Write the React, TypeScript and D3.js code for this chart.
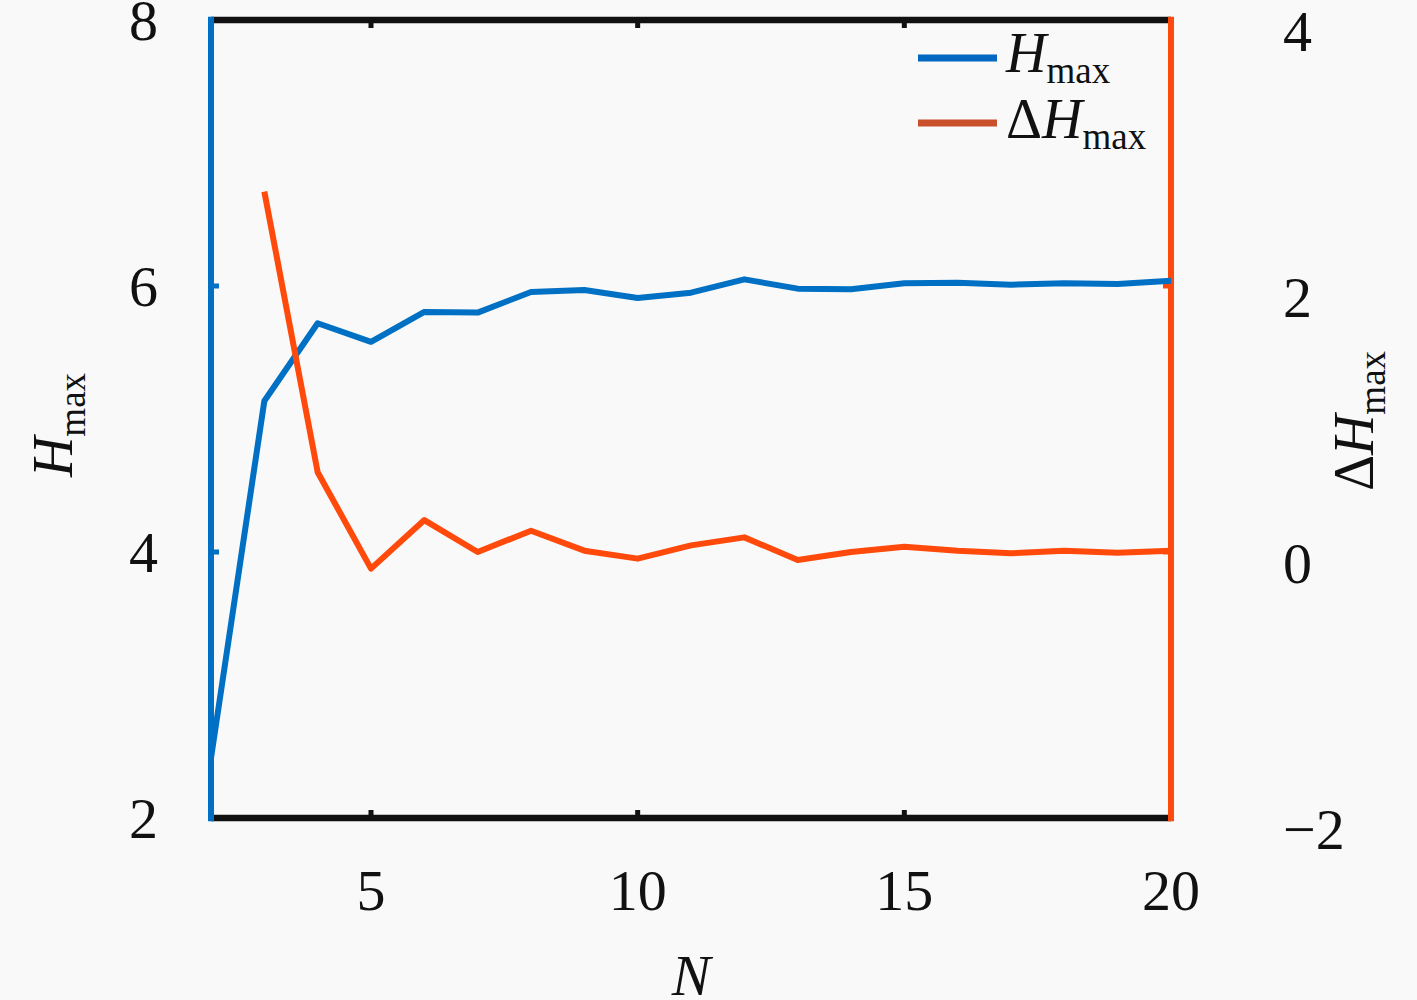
import React from "react";
import * as d3 from "d3";

const N: number[] = [2, 3, 4, 5, 6, 7, 8, 9, 10, 11, 12, 13, 14, 15, 16, 17, 18, 19, 20];
const Hmax: number[] = [2.45, 5.135, 5.72, 5.58, 5.805, 5.8, 5.955, 5.97, 5.91, 5.95, 6.05, 5.98, 5.975, 6.02, 6.025, 6.01, 6.02, 6.015, 6.04];
const dN: number[] = [3, 4, 5, 6, 7, 8, 9, 10, 11, 12, 13, 14, 15, 16, 17, 18, 19, 20];
const dHmax: number[] = [2.71, 0.6, -0.125, 0.24, 0.0, 0.16, 0.01, -0.05, 0.05, 0.11, -0.06, 0.0, 0.04, 0.01, -0.01, 0.01, -0.005, 0.01];

const xTicks: number[] = [5, 10, 15, 20];
const yLeftTicks: number[] = [2, 4, 6, 8];
const yRightTicks: number[] = [-2, 0, 2, 4];

const BLUE = "#0070C4";
const ORANGE = "#FF4A0C";
const LEG_BLUE = "#0068C0";
const LEG_ORANGE = "#C9502A";
const FONT = '"Liberation Serif", "Times New Roman", "DejaVu Serif", "Noto Serif", serif';
const ts: React.CSSProperties = { fontFamily: FONT };

export default function App() {
  const L = 211, R = 1171, T = 20, B = 818;
  const x = d3.scaleLinear().domain([2, 20]).range([L, R]);
  const yL = d3.scaleLinear().domain([2, 8]).range([B, T]);
  const yR = d3.scaleLinear().domain([-2, 4]).range([B, T]);

  const blueLine = d3.line<number>().x((_, i) => x(N[i])).y((d) => yL(d))(Hmax) || "";
  const orangeLine = d3.line<number>().x((_, i) => x(dN[i])).y((d) => yR(d))(dHmax) || "";

  const tickLen = 8;
  const innerX = xTicks.filter((t) => t > 2 && t < 20);
  const innerYL = yLeftTicks.filter((t) => t > 2 && t < 8);
  const innerYR = yRightTicks.filter((t) => t > -2 && t < 4);

  return (
    <svg
      width={1417}
      height={1000}
      style={{ position: "absolute", left: 0, top: 0, display: "block" }}
    >
      <rect x={0} y={0} width={1417} height={1000} fill="#f9f9f9" />

      {/* top & bottom black axes */}
      <line x1={L} x2={R} y1={T} y2={T} stroke="#111" strokeWidth={6.5} />
      <line x1={L} x2={R} y1={B} y2={B} stroke="#111" strokeWidth={6.5} />
      {innerX.map((t) => (
        <g key={"xt" + t}>
          <line x1={x(t)} x2={x(t)} y1={T} y2={T + tickLen} stroke="#111" strokeWidth={5} />
          <line x1={x(t)} x2={x(t)} y1={B} y2={B - tickLen} stroke="#111" strokeWidth={5} />
        </g>
      ))}

      {/* left blue axis */}
      <line x1={L} x2={L} y1={T - 3.25} y2={B + 3.25} stroke={BLUE} strokeWidth={6} />
      {innerYL.map((t) => (
        <line key={"yl" + t} x1={L} x2={L + tickLen} y1={yL(t)} y2={yL(t)} stroke={BLUE} strokeWidth={5} />
      ))}

      {/* right orange axis */}
      <line x1={R} x2={R} y1={T - 3.25} y2={B + 3.25} stroke={ORANGE} strokeWidth={6} />
      {innerYR.map((t) => (
        <line key={"yr" + t} x1={R} x2={R - tickLen} y1={yR(t)} y2={yR(t)} stroke={ORANGE} strokeWidth={5} />
      ))}

      {/* data lines */}
      <path d={blueLine} fill="none" stroke={BLUE} strokeWidth={6} strokeLinejoin="round" />
      <path d={orangeLine} fill="none" stroke={ORANGE} strokeWidth={6} strokeLinejoin="round" />

      {/* x tick labels */}
      {xTicks.map((t) => (
        <text key={"xl" + t} x={x(t)} y={910} fontSize={58} textAnchor="middle" fill="#111" style={ts}>
          {t}
        </text>
      ))}
      {/* left tick labels */}
      {yLeftTicks.map((t) => (
        <text key={"yll" + t} x={158} y={yL(t) + 20} fontSize={58} textAnchor="end" fill="#111" style={ts}>
          {t}
        </text>
      ))}
      {/* right tick labels */}
      {yRightTicks.map((t) => (
        <text key={"yrl" + t} x={1283} y={yR(t) + 31} fontSize={58} textAnchor="start" fill="#111" style={ts}>
          {t < 0 ? "\u2212" + Math.abs(t) : String(t)}
        </text>
      ))}

      {/* x axis label */}
      <text x={691} y={995} fontSize={58} fontStyle="italic" textAnchor="middle" fill="#111" style={ts}>
        N
      </text>

      {/* left y label */}
      <text transform="translate(72,425) rotate(-90)" fontSize={56} textAnchor="middle" fill="#111" style={ts}>
        <tspan fontStyle="italic">H</tspan>
        <tspan fontSize={37} dy={13}>max</tspan>
      </text>

      {/* right y label */}
      <text transform="translate(1373,421) rotate(-90)" fontSize={56} textAnchor="middle" fill="#111" style={ts}>
        <tspan>{"\u0394"}</tspan>
        <tspan fontStyle="italic">H</tspan>
        <tspan fontSize={37} dy={12}>max</tspan>
      </text>

      {/* legend */}
      <line x1={918} x2={997} y1={58} y2={58} stroke={LEG_BLUE} strokeWidth={7} />
      <line x1={918} x2={997} y1={123} y2={123} stroke={LEG_ORANGE} strokeWidth={7} />
      <text x={1006} y={72} fontSize={56} fill="#111" style={ts}>
        <tspan fontStyle="italic">H</tspan>
        <tspan fontSize={37} dy={11}>max</tspan>
      </text>
      <text x={1006} y={138} fontSize={56} fill="#111" style={ts}>
        <tspan>{"\u0394"}</tspan>
        <tspan fontStyle="italic">H</tspan>
        <tspan fontSize={37} dy={11}>max</tspan>
      </text>
    </svg>
  );
}
